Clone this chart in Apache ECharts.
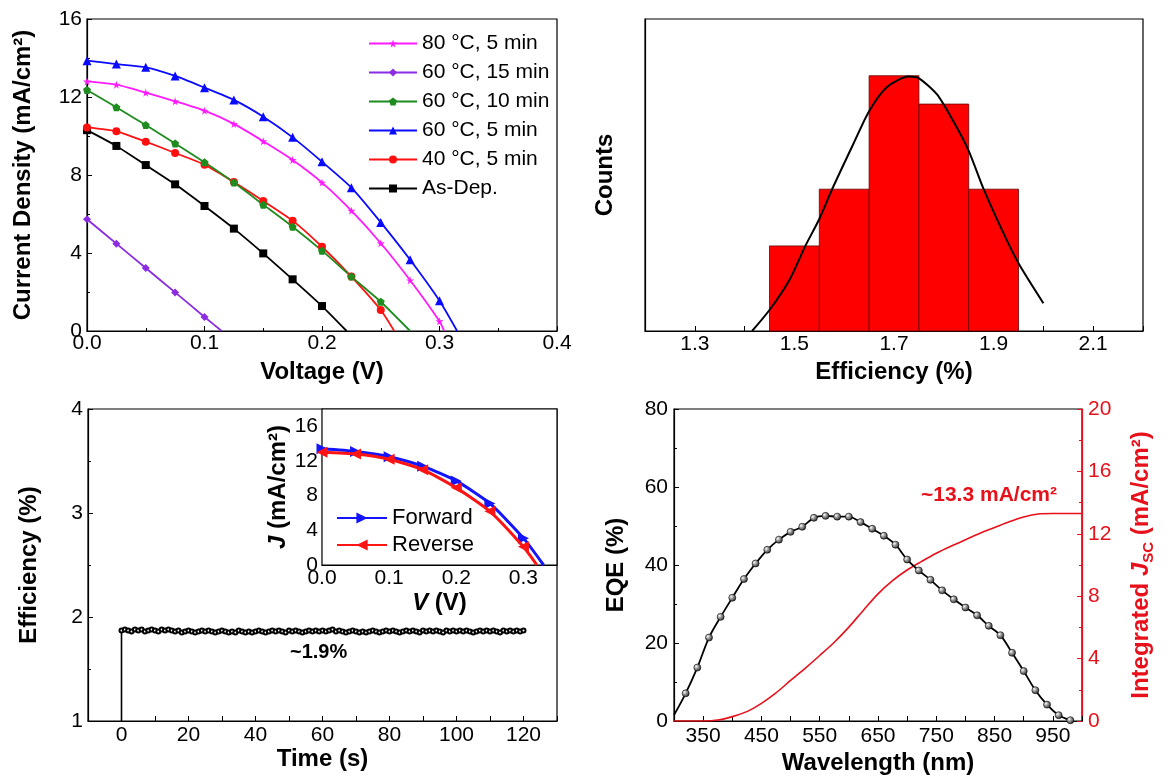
<!DOCTYPE html>
<html><head><meta charset="utf-8">
<script src="https://cdn.jsdelivr.net/npm/echarts@6/dist/echarts.min.js"></script>
<style>html,body{margin:0;padding:0;background:#fff}#c{width:1172px;height:780px}</style>
</head><body><div id="c"></div>
<script>
// ---------- Panel (a): J-V curves ----------
const jvVoltage = [0, 0.025, 0.05, 0.075, 0.1, 0.125, 0.15, 0.175, 0.2, 0.225, 0.25, 0.275, 0.3];
const jvNames = ['80 °C, 5 min', '60 °C, 15 min', '60 °C, 10 min', '60 °C, 5 min', '40 °C, 5 min', 'As-Dep.'];
const jv80c5 = [12.8, 12.63, 12.22, 11.78, 11.3, 10.62, 9.73, 8.77, 7.61, 6.17, 4.5, 2.6, 0.5];
const jv60c15 = [5.73, 4.48, 3.23, 1.98, 0.72];
const jv60c10 = [12.36, 11.47, 10.56, 9.62, 8.65, 7.61, 6.48, 5.35, 4.12, 2.79, 1.5];
const jv60c5 = [13.86, 13.69, 13.52, 13.08, 12.48, 11.85, 10.99, 9.93, 8.68, 7.35, 5.57, 3.65, 1.55];
const jv40c5 = [10.44, 10.24, 9.71, 9.13, 8.53, 7.64, 6.67, 5.66, 4.32, 2.79, 1.08];
const jvAsDep = [10.3, 9.49, 8.51, 7.52, 6.41, 5.25, 3.98, 2.65, 1.28];
const jvVoc = [0.304, 0.1146, 0.275, 0.315, 0.2615, 0.221];

// ---------- Panel (b): efficiency histogram ----------
const binStart = [1.45, 1.55, 1.65, 1.75, 1.85];
const binEnd = [1.55, 1.65, 1.75, 1.85, 1.95];
const binCounts = [3, 5, 9, 8, 5];
const fitX = [1.415, 1.45, 1.49, 1.522, 1.55, 1.575, 1.619, 1.65, 1.686, 1.729, 1.75, 1.786, 1.819, 1.85, 1.88, 1.92, 1.95, 2.0];
const fitY = [0, 0.74, 1.8, 3.0, 3.95, 4.97, 6.62, 7.75, 8.6, 8.97, 8.91, 8.35, 7.4, 6.35, 5.0, 3.44, 2.39, 0.98];

// ---------- Panel (c): stabilized efficiency ----------
const effStartTime = 0;
const effStepTime = 1;
const effValues = [
1.87,1.88,1.87,1.86,1.88,1.87,1.88,1.86,1.87,1.88,
1.87,1.86,1.88,1.87,1.88,1.87,1.86,1.87,1.85,1.86,
1.87,1.86,1.85,1.86,1.87,1.86,1.87,1.86,1.85,1.86,
1.87,1.86,1.85,1.86,1.85,1.87,1.86,1.85,1.86,1.85,
1.86,1.87,1.86,1.85,1.86,1.87,1.86,1.87,1.86,1.85,
1.87,1.86,1.87,1.86,1.85,1.86,1.87,1.86,1.87,1.86,
1.87,1.86,1.87,1.88,1.86,1.87,1.86,1.85,1.86,1.87,
1.86,1.85,1.86,1.85,1.86,1.87,1.86,1.85,1.86,1.87,
1.86,1.87,1.86,1.85,1.86,1.87,1.86,1.87,1.86,1.85,
1.87,1.86,1.87,1.86,1.87,1.86,1.85,1.87,1.86,1.87,
1.86,1.87,1.86,1.87,1.86,1.85,1.86,1.87,1.86,1.87,
1.86,1.87,1.86,1.85,1.87,1.86,1.87,1.86,1.87,1.86,
1.87];
const effBaseline = 1.0;
// inset J-V (forward / reverse scans)
const insetV = [0, 0.05, 0.1, 0.15, 0.2, 0.25, 0.3];
const insetForward = [13.4, 13.1, 12.5, 11.4, 9.7, 7.1, 3.1];
const insetReverse = [13.0, 12.8, 12.2, 11.0, 8.9, 6.2, 2.1];
const insetVoc = [0.33, 0.32];

// ---------- Panel (d): EQE and integrated Jsc ----------
const eqeWl = [300, 320, 340, 360, 380, 400, 420, 440, 460, 480, 500, 520, 540, 560, 580, 600, 620, 640, 660, 680, 700, 720, 740, 760, 780, 800, 820, 840, 860, 880, 900, 920, 940, 960, 980];
const eqeVal = [1.5, 7.1, 13.7, 21.4, 26.7, 31.6, 36.4, 40.4, 43.9, 46.5, 48.5, 49.8, 52.1, 52.6, 52.4, 52.4, 51.0, 49.3, 47.5, 45.2, 41.4, 38.6, 36.2, 33.5, 31.2, 29.1, 27.1, 24.4, 22.0, 17.5, 12.8, 7.9, 4.2, 1.5, 0.2];
const jscWl = [300, 350, 375, 400, 425, 450, 475, 500, 525, 550, 575, 600, 625, 650, 675, 700, 725, 750, 775, 800, 825, 850, 875, 900, 925, 950, 1000];
const jscVal = [0, 0, 0.06, 0.28, 0.6, 1.13, 1.8, 2.6, 3.38, 4.2, 5.05, 6.02, 7.1, 8.15, 9.0, 9.68, 10.23, 10.75, 11.2, 11.62, 12.03, 12.4, 12.77, 13.08, 13.27, 13.3, 13.3];

// ---------- build ----------
const FONT = '"Liberation Sans", Arial, Helvetica, sans-serif';
const STAR = 'path://M50,0 L61,35 L98,35 L68,57 L79,91 L50,70 L21,91 L32,57 L2,35 L39,35 Z';
const PENT = 'path://M50,0 L98,35 L79,91 L21,91 L2,35 Z';
const TRI_R = 'path://M0,0 L10,5 L0,10 Z';
const TRI_L = 'path://M10,0 L0,5 L10,10 Z';

function jvData(vals, voc) {
  const d = vals.map((j, i) => [jvVoltage[i], j]);
  d.push({ value: [voc, 0], symbol: 'none' });
  return d;
}
function insetData(vals, voc) {
  const d = vals.map((j, i) => [insetV[i], j]);
  d.push({ value: [voc, 0], symbol: 'none' });
  return d;
}
const effData = [{ value: [effStartTime, effBaseline], symbol: 'none' }]
  .concat(effValues.map((v, i) => [effStartTime + i * effStepTime, v]));
const eqeData = eqeWl.map((w, i) => i === 0 ? { value: [w, eqeVal[i]], symbol: 'none' } : [w, eqeVal[i]]);
const jscData = jscWl.map((w, i) => [w, jscVal[i]]);
const fitData = fitX.map((x, i) => [x, fitY[i]]);
const histData = binStart.map((s, i) => [s, binEnd[i], binCounts[i]]);

const axLine = { show: true, onZero: false, lineStyle: { color: '#000', width: 1.2 } };
const tick = { show: true, inside: true, length: 5, lineStyle: { color: '#000', width: 1 } };
const minor = { show: true, splitNumber: 2, length: 3, lineStyle: { color: '#000', width: 1 } };
const lbl = (extra) => Object.assign({ fontSize: 21, fontFamily: FONT, color: '#000' }, extra || {});
const nameStyle = (extra) => Object.assign({ fontSize: 24, fontWeight: 'bold', fontFamily: FONT, color: '#000' }, extra || {});

const jvColors = ['#ff1aff', '#8b2be2', '#1e8c1e', '#0a0aff', '#ff1010', '#000000'];
const jvSymbols = [STAR, 'diamond', PENT, 'triangle', 'circle', 'rect'];
const jvSets = [jv80c5, jv60c15, jv60c10, jv60c5, jv40c5, jvAsDep];
const jvDrawOrder = [5, 4, 2, 3, 1, 0];

const series = [];
jvDrawOrder.forEach(k => {
  series.push({
    name: jvNames[k], type: 'line', xAxisIndex: 0, yAxisIndex: 0,
    data: jvData(jvSets[k], jvVoc[k]),
    symbol: jvSymbols[k], symbolSize: k === 3 ? 9 : 8,
    lineStyle: { color: jvColors[k], width: 1.8 },
    itemStyle: { color: jvColors[k] },
    smooth: 0.2, clip: true, z: 3
  });
});
series.push({
  type: 'custom', xAxisIndex: 1, yAxisIndex: 1, data: histData,
  encode: { x: [0, 1], y: 2 },
  renderItem: function (params, api) {
    const p0 = api.coord([api.value(0), api.value(2)]);
    const p1 = api.coord([api.value(1), 0]);
    return { type: 'rect', shape: { x: p0[0], y: p0[1], width: p1[0] - p0[0], height: p1[1] - p0[1] },
      style: { fill: '#ff0000', stroke: '#6a0000', lineWidth: 0.8 } };
  }, z: 2
});
series.push({
  type: 'line', xAxisIndex: 1, yAxisIndex: 1, data: fitData, smooth: 0.25, symbol: 'none',
  lineStyle: { color: '#000', width: 2 }, z: 4
});
series.push({
  type: 'line', xAxisIndex: 2, yAxisIndex: 2, data: effData, symbol: 'emptyCircle', symbolSize: 4,
  showAllSymbol: true, itemStyle: { color: '#000', borderWidth: 1 }, lineStyle: { color: '#000', width: 1.6 }
});
series.push({
  name: 'Forward', type: 'line', xAxisIndex: 3, yAxisIndex: 3, data: insetData(insetForward, insetVoc[0]),
  symbol: TRI_R, symbolSize: 11, smooth: 0.2, lineStyle: { color: '#1414ff', width: 3 }, itemStyle: { color: '#1414ff' }, z: 5
});
series.push({
  name: 'Reverse', type: 'line', xAxisIndex: 3, yAxisIndex: 3, data: insetData(insetReverse, insetVoc[1]),
  symbol: TRI_L, symbolSize: 11, smooth: 0.2, lineStyle: { color: '#ff1414', width: 3 }, itemStyle: { color: '#ff1414' }, z: 6
});
series.push({
  type: 'line', xAxisIndex: 4, yAxisIndex: 5, data: jscData, smooth: 0.3, symbol: 'none',
  lineStyle: { color: '#e8101a', width: 1.6 }, z: 3
});
series.push({
  type: 'line', xAxisIndex: 4, yAxisIndex: 4, data: eqeData, smooth: 0.3, symbol: 'circle', symbolSize: 7,
  showAllSymbol: true,
  lineStyle: { color: '#000', width: 1.8 },
  itemStyle: { borderColor: '#000', borderWidth: 0.6,
    color: { type: 'radial', x: 0.35, y: 0.35, r: 0.75, colorStops: [
      { offset: 0, color: '#ffffff' }, { offset: 0.35, color: '#a0a0a0' }, { offset: 1, color: '#151515' }] } },
  z: 4
});

const gridBase = { show: true, borderColor: '#000', borderWidth: 1.2, backgroundColor: 'transparent', containLabel: false };

const option = {
  animation: false,
  backgroundColor: '#fff',
  textStyle: { fontFamily: FONT },
  grid: [
    Object.assign({ left: 87, top: 19, width: 470, height: 312 }, gridBase),
    Object.assign({ left: 645, top: 19, width: 498, height: 312 }, gridBase),
    Object.assign({ left: 88, top: 409, width: 469, height: 312 }, gridBase),
    Object.assign({ left: 322, top: 409, width: 235, height: 156 }, gridBase, { backgroundColor: '#fff', z: 3 }),
    Object.assign({ left: 674, top: 409, width: 408, height: 312 }, gridBase)
  ],
  xAxis: [
    { type: 'value', gridIndex: 0, min: 0, max: 0.4, interval: 0.1,
      axisLine: axLine, axisTick: tick, minorTick: minor, splitLine: { show: false },
      axisLabel: lbl({ margin: 2, formatter: v => v.toFixed(1) }),
      name: 'Voltage (V)', nameLocation: 'middle', nameGap: 29, nameTextStyle: nameStyle() },
    { type: 'value', gridIndex: 1, min: 1.2, max: 2.2, interval: 0.1,
      axisLine: axLine, axisTick: tick, splitLine: { show: false },
      axisLabel: lbl({ margin: 3, formatter: v => (Math.round(v * 10) % 2 === 1 && v < 2.15) ? v.toFixed(1) : '' }),
      name: 'Efficiency (%)', nameLocation: 'middle', nameGap: 29, nameTextStyle: nameStyle() },
    { type: 'value', gridIndex: 2, min: -10, max: 130, interval: 10,
      axisLine: axLine, axisTick: tick, splitLine: { show: false },
      axisLabel: lbl({ margin: 4, formatter: v => (v >= 0 && v <= 120 && v % 20 === 0) ? String(v) : '' }),
      name: 'Time (s)', nameLocation: 'middle', nameGap: 26, nameTextStyle: nameStyle() },
    { type: 'value', gridIndex: 3, min: 0, max: 0.35, interval: 0.1,
      axisLine: axLine, axisTick: tick, splitLine: { show: false },
      axisLabel: lbl({ margin: 3, showMaxLabel: false, formatter: v => v.toFixed(1) }),
      name: '{i|V}{b| (V)}', nameLocation: 'middle', nameGap: 26,
      nameTextStyle: nameStyle({ rich: { i: { fontSize: 24, fontWeight: 'bold', fontStyle: 'italic', fontFamily: FONT }, b: { fontSize: 24, fontWeight: 'bold', fontFamily: FONT } } }) },
    { type: 'value', gridIndex: 4, min: 300, max: 1000, interval: 50,
      axisLine: axLine, axisTick: tick, splitLine: { show: false },
      axisLabel: lbl({ margin: 5, formatter: v => (v >= 350 && v <= 950 && (v - 350) % 100 === 0) ? String(v) : '' }),
      name: 'Wavelength (nm)', nameLocation: 'middle', nameGap: 30, nameTextStyle: nameStyle() }
  ],
  yAxis: [
    { type: 'value', gridIndex: 0, min: 0, max: 16, interval: 4,
      axisLine: axLine, axisTick: tick, minorTick: minor, splitLine: { show: false },
      axisLabel: lbl({ margin: 5 }),
      name: 'Current Density (mA/cm²)', nameLocation: 'middle', nameGap: 52, nameTextStyle: nameStyle() },
    { type: 'value', gridIndex: 1, min: 0, max: 11, interval: 1,
      axisLine: axLine, axisTick: { show: false }, axisLabel: { show: false }, splitLine: { show: false },
      name: 'Counts', nameLocation: 'middle', nameGap: 28, nameTextStyle: nameStyle() },
    { type: 'value', gridIndex: 2, min: 1, max: 4, interval: 1,
      axisLine: axLine, axisTick: tick, minorTick: minor, splitLine: { show: false },
      axisLabel: lbl({ margin: 5 }),
      name: 'Efficiency (%)', nameLocation: 'middle', nameGap: 47, nameTextStyle: nameStyle() },
    { type: 'value', gridIndex: 3, min: 0, max: 18, interval: 4,
      axisLine: axLine, axisTick: tick, splitLine: { show: false },
      axisLabel: lbl({ margin: 4, showMaxLabel: false }),
      name: '{i|J}{b| (mA/cm²)}', nameLocation: 'middle', nameGap: 24,
      nameTextStyle: nameStyle({ rich: { i: { fontSize: 24, fontWeight: 'bold', fontStyle: 'italic', fontFamily: FONT }, b: { fontSize: 24, fontWeight: 'bold', fontFamily: FONT } } }) },
    { type: 'value', gridIndex: 4, min: 0, max: 80, interval: 20,
      axisLine: axLine, axisTick: tick, minorTick: minor, splitLine: { show: false },
      axisLabel: lbl({ margin: 6 }),
      name: 'EQE (%)', nameLocation: 'middle', nameGap: 46, nameTextStyle: nameStyle() },
    { type: 'value', gridIndex: 4, position: 'right', min: 0, max: 20, interval: 4,
      axisLine: { show: true, onZero: false, lineStyle: { color: '#e8101a', width: 1.2 } },
      axisTick: { show: true, inside: true, length: 5, lineStyle: { color: '#e8101a' } },
      minorTick: { show: true, splitNumber: 2, length: 3, lineStyle: { color: '#e8101a' } },
      splitLine: { show: false },
      axisLabel: lbl({ margin: 6, color: '#e8101a' }),
      name: '{b|Integrated }{i|J}{s|SC}{b| (mA/cm²)}', nameLocation: 'middle', nameGap: 44,
      nameTextStyle: { color: '#e8101a', fontFamily: FONT, fontWeight: 'bold', fontSize: 24,
        rich: {
          b: { fontSize: 24, fontWeight: 'bold', fontFamily: FONT, color: '#e8101a', lineHeight: 30 },
          i: { fontSize: 24, fontWeight: 'bold', fontStyle: 'italic', fontFamily: FONT, color: '#e8101a', lineHeight: 30 },
          s: { fontSize: 15, fontWeight: 'bold', fontFamily: FONT, color: '#e8101a', lineHeight: 15, verticalAlign: 'bottom' }
        } } }
  ],
  legend: [
    { data: jvNames, orient: 'vertical', left: 363, top: 28, itemWidth: 48, itemHeight: 10, itemGap: 8.0,
      textStyle: { fontSize: 21, fontFamily: FONT, color: '#000' }, selectedMode: false },
    { data: ['Forward', 'Reverse'], orient: 'vertical', left: 331, top: 502, itemWidth: 50, itemHeight: 14, itemGap: 5,
      textStyle: { fontSize: 22, fontFamily: FONT, color: '#000' }, selectedMode: false }
  ],
  graphic: [
    { type: 'text', left: 290, top: 642, style: { text: '~1.9%', fontSize: 20, fontWeight: 'bold', fontFamily: FONT, fill: '#000' } },
    { type: 'text', left: 921, top: 485, style: { text: '~13.3 mA/cm²', fontSize: 21, fontWeight: 'bold', fontFamily: FONT, fill: '#e8101a' } }
  ],
  series: series
};
const chart = echarts.init(document.getElementById('c'), null, { renderer: 'canvas' });
chart.setOption(option);
</script></body></html>
